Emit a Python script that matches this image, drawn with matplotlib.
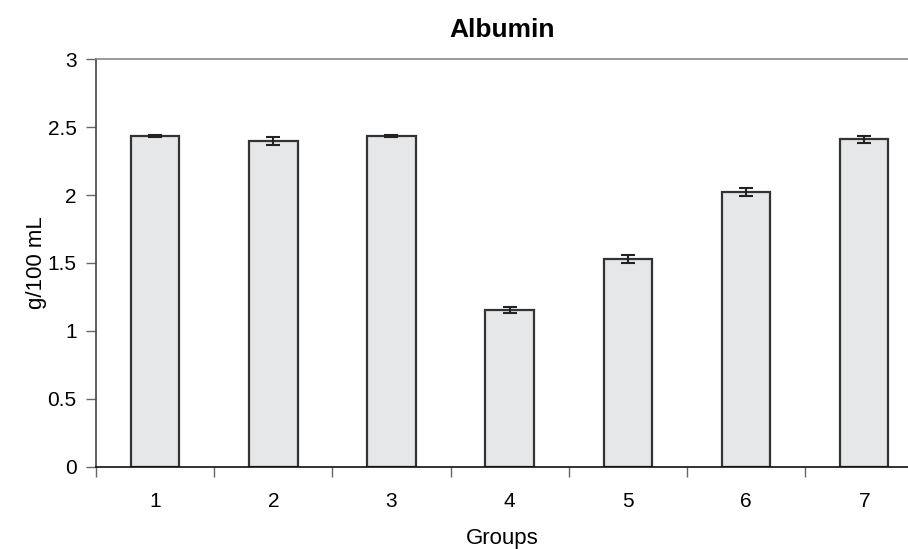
import matplotlib.pyplot as plt
import numpy as np

plt.rcParams['font.family'] = ['Liberation Sans', 'DejaVu Sans']

groups = ['1', '2', '3', '4', '5', '6', '7']
albumin = [2.435, 2.40, 2.435, 1.155, 1.53, 2.025, 2.41]
errors = [0.005, 0.03, 0.005, 0.02, 0.03, 0.03, 0.025]

fig = plt.figure(figsize=(9.08, 5.49), dpi=100)
ax = fig.add_axes([0.1057, 0.1494, 0.8943, 0.7431])

x = np.arange(1, len(groups) + 1)
ax.bar(x, albumin, width=0.41, color='#e6e7e8', edgecolor='#333333', linewidth=1.6,
       yerr=errors, error_kw=dict(ecolor='#222222', elinewidth=1.5, capsize=5, capthick=1.5))

ax.set_xlim(0.5, 7.37)
ax.set_ylim(0, 3)
ax.set_yticks([0, 0.5, 1, 1.5, 2, 2.5, 3])
ax.set_yticklabels(['0', '0.5', '1', '1.5', '2', '2.5', '3'])

# category ticks sit between the bars, labels centred under them
ax.set_xticks(np.arange(0.5, 7.5, 1.0))
ax.set_xticklabels([])
ax.set_xticks(x, minor=True)
ax.set_xticklabels(groups, minor=True)
ax.tick_params(axis='x', which='major', length=7, width=1, color='#666666', direction='out')
ax.tick_params(axis='x', which='minor', length=0, pad=18, labelsize=15)
ax.tick_params(axis='y', length=7, width=1, color='#666666', direction='out', labelsize=15, pad=7)

ax.spines['right'].set_visible(False)
ax.spines['top'].set_color('#888888')
ax.spines['top'].set_linewidth(1.2)
ax.spines['left'].set_color('#444444')
ax.spines['left'].set_linewidth(1.2)
ax.spines['bottom'].set_color('#111111')
ax.spines['bottom'].set_linewidth(1.2)

ax.set_title('Albumin', fontsize=19, fontweight='bold', pad=16)
ax.set_ylabel('g/100 mL', fontsize=16, labelpad=0)
ax.set_xlabel('Groups', fontsize=16, labelpad=12)

fig.savefig('out.png', dpi=100)
